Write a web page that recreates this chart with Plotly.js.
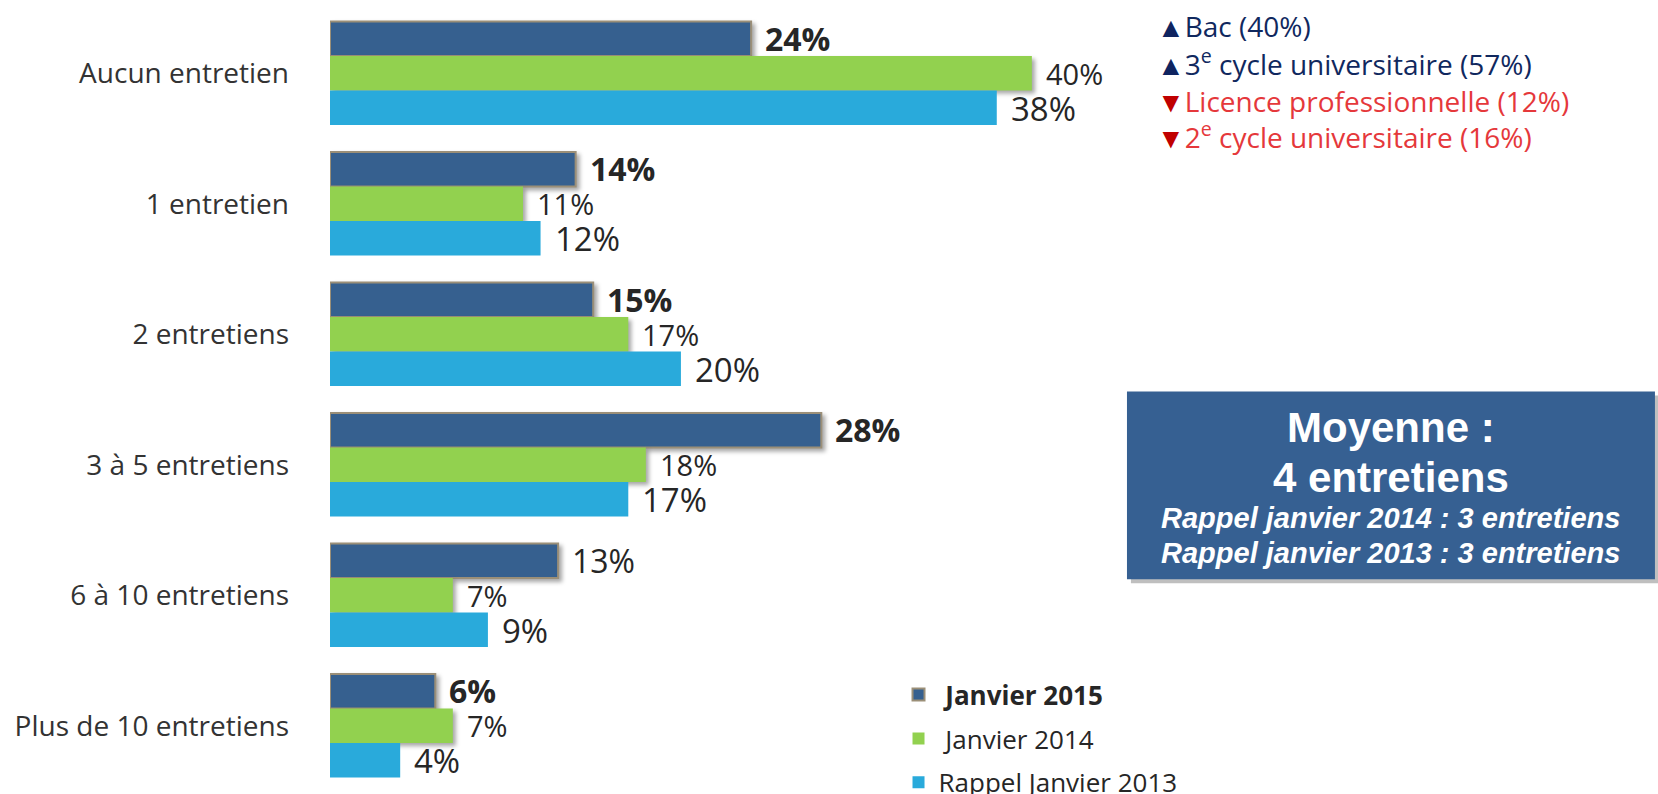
<!DOCTYPE html>
<html>
<head>
<meta charset="utf-8">
<script src="https://cdn.plot.ly/plotly-3.0.1.min.js"></script>
<style>
html,body{margin:0;padding:0;background:#fff;}
#chart{width:1658px;height:794px;}
.barlayer .trace:nth-child(1) path, .barlayer .trace:nth-child(2) path { filter: drop-shadow(3px 3px 2px rgba(0,0,0,0.35)); }
</style>
</head>
<body>
<div id="chart"></div>
<script>
// ---- data ----
const categories = ["Aucun entretien", "1 entretien", "2 entretiens", "3 à 5 entretiens", "6 à 10 entretiens", "Plus de 10 entretiens"];
const seriesNames = ["Janvier 2015", "Janvier 2014", "Rappel Janvier 2013"];
const jan2015 = [24, 14, 15, 28, 13, 6];
const jan2014 = [40, 11, 17, 18, 7, 7];
const jan2013 = [38, 12, 20, 17, 9, 4];
const jan2015Bold = [true, true, true, true, false, true];
const noteLines = [
  {up: true,  text: "Bac (40%)"},
  {up: true,  text: "3<sup>e</sup> cycle universitaire (57%)"},
  {up: false, text: "Licence professionnelle (12%)"},
  {up: false, text: "2<sup>e</sup> cycle universitaire (16%)"}
];
const boxTitle = ["Moyenne :", "4 entretiens"];
const boxRecall = ["Rappel janvier 2014 : 3 entretiens", "Rappel janvier 2013 : 3 entretiens"];

// ---- styles ----
const colors = ["#36608f", "#92d14f", "#29aadb"];
const txtFont = "'Open Sans', Lato, sans-serif";
const labelColor = "#262626";

const series = [jan2015, jan2014, jan2013];
const legendPrefix = ["\u00a0", "\u00a0", ""];
const traces = series.map((vals, i) => ({
  type: "bar",
  orientation: "h",
  name: i === 0 ? legendPrefix[i] + "<b>" + seriesNames[i] + "</b>" : legendPrefix[i] + seriesNames[i],
  x: vals,
  y: categories,
  legendgroup: "g" + i,
  marker: {
    color: colors[i],
    line: i === 0 ? {color: "#9b8f78", width: 2} : {color: colors[i], width: 0}
  },
  hoverinfo: "x+y"
}));

const annotations = [];
const yshifts = [35, 0, -35];
const labelFonts = [
  (j) => ({family: txtFont, size: 32, color: labelColor}),
  () => ({family: txtFont, size: 29, color: labelColor}),
  () => ({family: txtFont, size: 33, color: labelColor})
];
series.forEach((vals, i) => {
  vals.forEach((v, j) => {
    annotations.push({
      x: v, y: categories[j], xref: "x", yref: "y",
      text: (i === 0 && jan2015Bold[j]) ? "<b>" + v + "%</b>" : v + "%",
      showarrow: false, xanchor: "left", yanchor: "middle",
      xshift: 12, yshift: yshifts[i],
      font: labelFonts[i](j)
    });
  });
});

// notes top right
const noteY = [0.977, 0.930, 0.881, 0.837];
noteLines.forEach((n, k) => {
  const triColor = n.up ? "#0f2460" : "#c00000";
  const textColor = n.up ? "#10285e" : "#e5383b";
  annotations.push({
    xref: "paper", yref: "paper", x: 0.627, y: noteY[k],
    xanchor: "left", yanchor: "middle", showarrow: false,
    text: "<span style='color:" + triColor + "'>" + (n.up ? "▲" : "▼") + "</span><span style='color:" + textColor + "'>" + n.text + "</span>",
    font: {family: txtFont, size: 28, color: textColor}
  });
});

// box texts
const boxCx = 0.806;
const boxY = [0.4643, 0.4005, 0.3482, 0.3036];
boxTitle.forEach((t, k) => annotations.push({
  xref: "paper", yref: "paper", x: boxCx, y: boxY[k], xanchor: "center", yanchor: "middle",
  showarrow: false, text: "<b>" + t + "</b>",
  font: {family: "'Liberation Sans', Arial, sans-serif", size: 42, color: "#ffffff"}
}));
boxRecall.forEach((t, k) => annotations.push({
  xref: "paper", yref: "paper", x: boxCx, y: boxY[k + 2], xanchor: "center", yanchor: "middle",
  showarrow: false, text: "<b><i>" + t + "</i></b>",
  font: {family: "'Liberation Sans', Arial, sans-serif", size: 29, color: "#ffffff"}
}));

const shapes = [
  {type: "rect", xref: "paper", yref: "paper", x0: 0.6086, x1: 1.012, y0: 0.2654, y1: 0.5052,
   fillcolor: "rgba(0,0,0,0.25)", line: {width: 0}, layer: "below"},
  {type: "rect", xref: "paper", yref: "paper", x0: 0.6056, x1: 1.0068, y0: 0.2704, y1: 0.5102,
   fillcolor: "#366092", line: {width: 0}, layer: "below"}
];

const layout = {
  width: 1658, height: 794,
  margin: {l: 330, r: 12, t: 8, b: 3, autoexpand: false},
  paper_bgcolor: "#ffffff", plot_bgcolor: "#ffffff",
  barmode: "group", bargap: 0.205, bargroupgap: 0,
  xaxis: {range: [0, 75], visible: false, fixedrange: true},
  yaxis: {
    autorange: "reversed", showgrid: false, zeroline: false, showline: false,
    ticks: "", ticklabelstandoff: 40,
    tickfont: {family: txtFont, size: 28, color: "#333333"}
  },
  showlegend: true,
  legend: {
    x: 0.432, y: 0.153, xanchor: "left", yanchor: "top",
    traceorder: "grouped", tracegroupgap: 7,
    bgcolor: "rgba(0,0,0,0)",
    font: {family: txtFont, size: 26, color: "#262626"}
  },
  annotations: annotations,
  shapes: shapes
};

Plotly.newPlot("chart", traces, layout, {displayModeBar: false, staticPlot: true});
</script>
</body>
</html>
